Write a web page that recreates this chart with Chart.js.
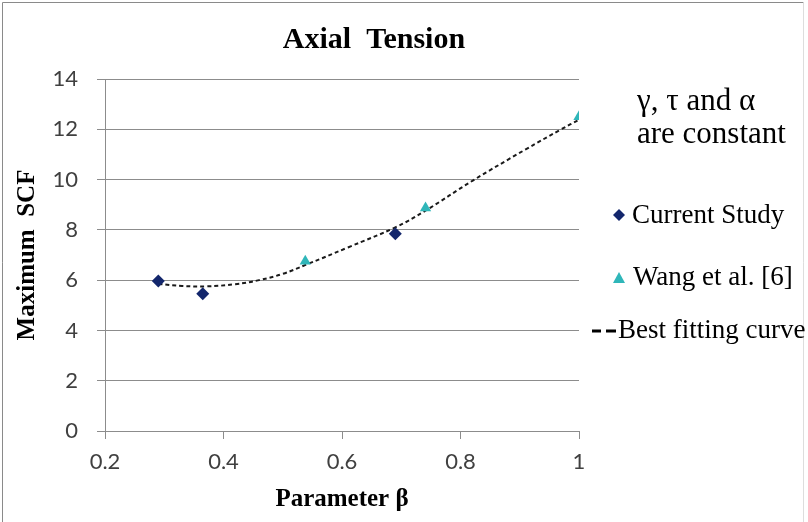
<!DOCTYPE html>
<html>
<head>
<meta charset="utf-8">
<script src="https://cdn.jsdelivr.net/npm/chart.js@4.4.1/dist/chart.umd.min.js"></script>
<style>
  html, body { margin: 0; padding: 0; background: #fff; }
  #wrap { width: 808px; height: 522px; position: relative; }
</style>
</head>
<body>
<div id="wrap"><canvas id="c" width="808" height="522"></canvas></div>
<script>
// ---- Data ----
const chartTitle = 'Axial  Tension';
const xAxisTitle = 'Parameter \u03B2';
const yAxisTitle = 'Maximum  SCF';
const noteLines = ['\u03B3, \u03C4 and \u03B1', 'are constant'];
const seriesNames = ['Current Study', 'Wang et al. [6]', 'Best fitting curve'];

const currentX = [0.29, 0.365, 0.69];
const currentY = [5.97, 5.46, 7.85];

const wangX = [0.538, 0.741, 1.0];
const wangY = [6.75, 8.87, 12.5];

const fitX = [0.29, 0.33, 0.37, 0.42, 0.46, 0.50, 0.54, 0.61, 0.69, 0.74, 0.82, 0.91, 0.97, 1.0];
const fitY = [5.85, 5.77, 5.75, 5.84, 6.0, 6.25, 6.62, 7.3, 8.1, 8.75, 9.95, 11.2, 12.0, 12.38];

const xTicks = [0.2, 0.4, 0.6, 0.8, 1];
const yTicks = [0, 2, 4, 6, 8, 10, 12, 14];

// ---- Styles ----
const navy = '#13266c';
const teal = '#2fb6b9';
const gridGray = '#8c8c8c';
const serif = '"Liberation Serif", "Times New Roman", serif';
const sans = 'Lato, "Open Sans", sans-serif';

const toPts = (xs, ys) => xs.map((x, i) => ({ x: x, y: ys[i] }));

const overlay = {
  id: 'overlay',
  afterDraw(chart) {
    const ctx = chart.ctx;
    ctx.save();
    // frame
    ctx.strokeStyle = '#8a8a8a';
    ctx.lineWidth = 1;
    ctx.beginPath();
    ctx.moveTo(2.5, 522); ctx.lineTo(2.5, 2.5); ctx.lineTo(803.5, 2.5);
    ctx.stroke();
    ctx.strokeStyle = '#dddddd';
    ctx.beginPath(); ctx.moveTo(803.5, 2.5); ctx.lineTo(803.5, 522); ctx.stroke();

    // title
    ctx.fillStyle = '#000';
    ctx.textBaseline = 'middle';
    ctx.textAlign = 'center';
    ctx.font = 'bold 30px ' + serif;
    ctx.fillText(chartTitle, 374, 40);

    // note
    ctx.textAlign = 'left';
    ctx.font = '31px ' + serif;
    ctx.fillText(noteLines[0], 637, 102);
    ctx.fillText(noteLines[1], 637, 135);

    // legend
    ctx.font = '27px ' + serif;
    // diamond
    ctx.fillStyle = navy;
    ctx.beginPath();
    ctx.moveTo(619, 209); ctx.lineTo(625, 215); ctx.lineTo(619, 221); ctx.lineTo(613, 215);
    ctx.closePath(); ctx.fill();
    ctx.fillStyle = '#000';
    ctx.fillText(seriesNames[0], 632, 216);
    // triangle
    ctx.fillStyle = teal;
    ctx.beginPath();
    ctx.moveTo(619, 272); ctx.lineTo(625, 283); ctx.lineTo(613, 283);
    ctx.closePath(); ctx.fill();
    ctx.fillStyle = '#000';
    ctx.fillText(seriesNames[1], 633, 278);
    // dashes
    ctx.strokeStyle = '#000';
    ctx.lineWidth = 3;
    ctx.beginPath();
    ctx.moveTo(592, 331); ctx.lineTo(601, 331);
    ctx.moveTo(606, 331); ctx.lineTo(616, 331);
    ctx.stroke();
    ctx.fillText(seriesNames[2], 618, 331);
    ctx.restore();
  }
};

new Chart(document.getElementById('c'), {
  type: 'scatter',
  data: {
    datasets: [
      {
        label: seriesNames[2],
        data: toPts(fitX, fitY),
        showLine: true,
        borderColor: '#1a1a1a',
        borderWidth: 2,
        borderDash: [4, 3],
        pointRadius: 0,
        tension: 0.4,
        fill: false,
        order: 3
      },
      {
        label: seriesNames[0],
        data: toPts(currentX, currentY),
        pointStyle: 'rectRot',
        pointRadius: 6.5,
        backgroundColor: navy,
        borderColor: navy,
        borderWidth: 0,
        order: 1
      },
      {
        label: seriesNames[1],
        data: toPts(wangX, wangY),
        pointStyle: 'triangle',
        pointRadius: 6.5,
        backgroundColor: teal,
        borderColor: teal,
        borderWidth: 0,
        order: 2
      }
    ]
  },
  options: {
    responsive: false,
    animation: false,
    events: [],
    layout: { padding: { top: 79, right: 229, bottom: 0, left: 0 } },
    plugins: {
      legend: { display: false },
      title: { display: false },
      tooltip: { enabled: false }
    },
    scales: {
      x: {
        type: 'linear',
        min: 0.2,
        max: 1,
        afterFit(scale) { scale.height = 91; },
        afterBuildTicks(scale) { scale.ticks = xTicks.map(v => ({ value: v })); },
        grid: { display: true, drawOnChartArea: false, drawTicks: true, tickLength: 8, color: gridGray, lineWidth: 1 },
        border: { display: true, color: gridGray, width: 1 },
        ticks: { color: '#404040', font: { family: sans, size: 22 }, padding: 10, maxRotation: 0,
                 callback: v => String(v) },
        title: { display: true, text: xAxisTitle, color: '#000', font: { family: serif, size: 25, weight: 'bold' },
                 padding: { top: 0, bottom: 7 } }
      },
      y: {
        type: 'linear',
        min: 0,
        max: 14,
        afterFit(scale) { scale.width = 105; },
        afterBuildTicks(scale) { scale.ticks = yTicks.map(v => ({ value: v })); },
        grid: { display: true, drawOnChartArea: true, drawTicks: true, tickLength: 8, color: gridGray, lineWidth: 1 },
        border: { display: true, color: gridGray, width: 1 },
        ticks: { color: '#404040', font: { family: sans, size: 22 }, padding: 19 },
        title: { display: true, text: yAxisTitle, color: '#000', font: { family: serif, size: 25, weight: 'bold' },
                 padding: { top: 13, bottom: 0 } }
      }
    }
  },
  plugins: [overlay]
});
</script>
</body>
</html>
